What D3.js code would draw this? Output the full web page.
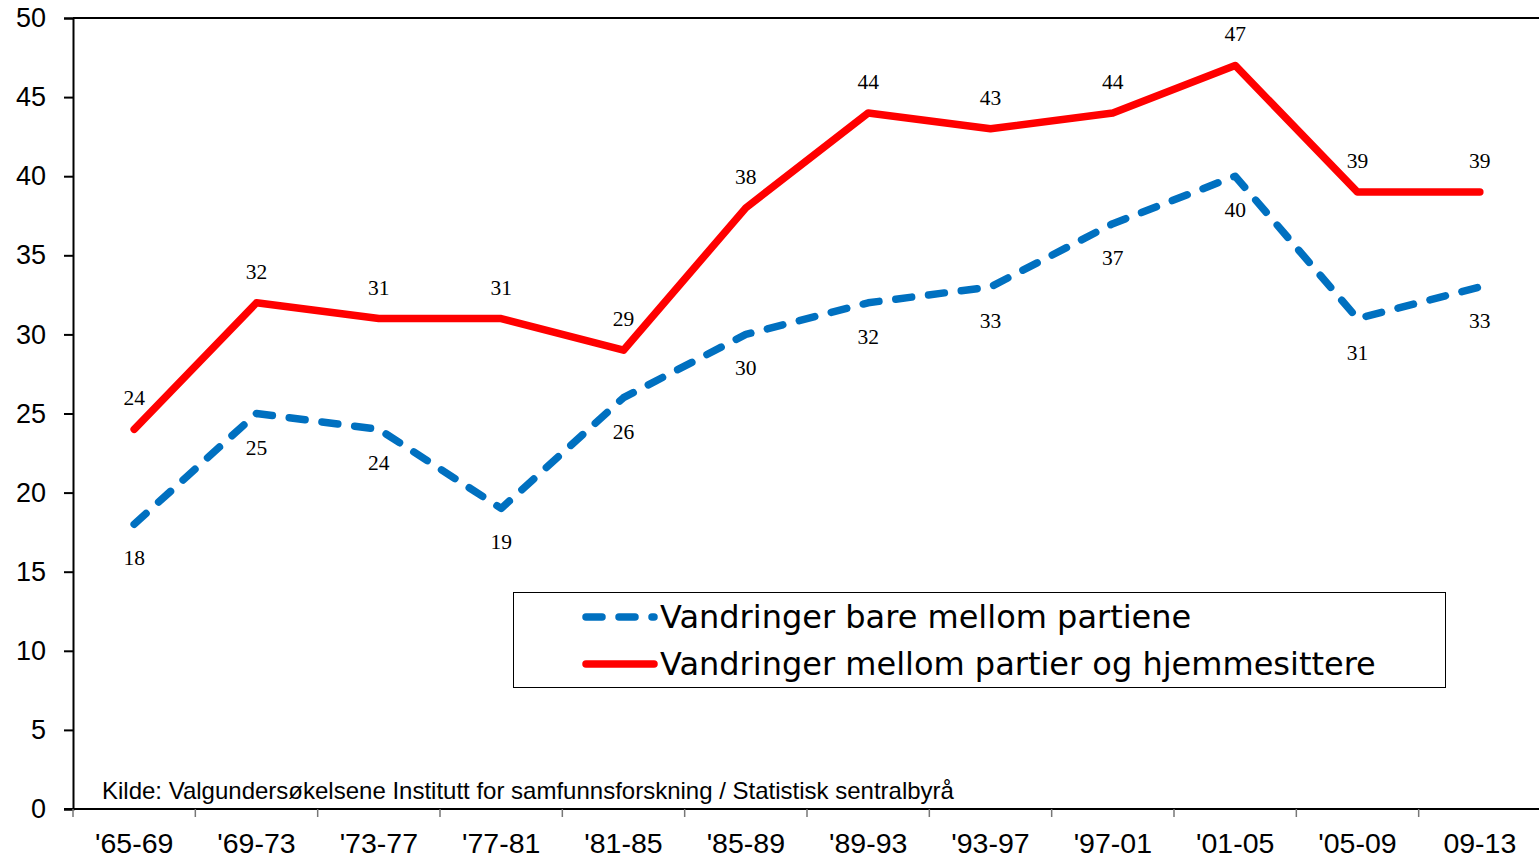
<!DOCTYPE html>
<html><head><meta charset="utf-8">
<script src="https://cdn.jsdelivr.net/npm/d3@7"></script>
<style>html,body{margin:0;padding:0;background:#fff;overflow:hidden}</style>
</head><body>
<svg id="c" width="1539" height="858"></svg>
<script>
const categories = ["'65-69","'69-73","'73-77","'77-81","'81-85","'85-89","'89-93","'93-97","'97-01","'01-05","'05-09","09-13"];
const seriesBare = [18,25,24,19,26,30,32,33,37,40,31,33];
const seriesHjemme = [24,32,31,31,29,38,44,43,44,47,39,39];
const yTicks = [0,5,10,15,20,25,30,35,40,45,50];
const legendLabels = ["Vandringer bare mellom partiene","Vandringer mellom partier og hjemmesittere"];
const sourceText = "Kilde: Valgundersøkelsene Institutt for samfunnsforskning / Statistisk sentralbyrå";

const svg = d3.select("#c");
const L = 73, R = 1541, T = 18, B = 809;
const x = d3.scaleBand().domain(categories).range([L, R]);
const y = d3.scaleLinear().domain([0, 50]).range([B, T]);
const cx = c => x(c) + x.bandwidth() / 2;

// top border
svg.append("line").attr("x1", L).attr("x2", 1539).attr("y1", T).attr("y2", T)
  .attr("stroke", "#000").attr("stroke-width", 2);

// y axis
const ya = svg.append("g").attr("transform", `translate(${L},0)`)
  .call(d3.axisLeft(y).tickValues(yTicks).tickSize(9).tickPadding(18));
ya.select(".domain").attr("stroke", "#000").attr("stroke-width", 2);
ya.selectAll(".tick line").attr("stroke", "#000").attr("stroke-width", 2);
ya.selectAll("text").attr("font-family", "Liberation Sans, Arial, sans-serif")
  .attr("font-size", 27).attr("fill", "#000");

// x axis
const xa = svg.append("g").attr("transform", `translate(0,${B})`)
  .call(d3.axisBottom(x).tickSize(0).tickPadding(24));
xa.select(".domain").remove();
xa.selectAll("text").attr("font-family", "Liberation Sans, Arial, sans-serif")
  .attr("font-size", 28.5).attr("fill", "#000");
svg.append("line").attr("x1", L - 9).attr("x2", 1539).attr("y1", B).attr("y2", B)
  .attr("stroke", "#000").attr("stroke-width", 2);
// boundary ticks
const edges = categories.map(c => x(c)).concat([R]);
svg.selectAll(".xt").data(edges).enter().append("line")
  .attr("x1", d => d).attr("x2", d => d).attr("y1", B).attr("y2", B + 8)
  .attr("stroke", "#777").attr("stroke-width", 1.5);

// lines
const line = d3.line().x((d, i) => cx(categories[i])).y(d => y(d));
svg.append("path").datum(seriesHjemme).attr("d", line)
  .attr("fill", "none").attr("stroke", "#FF0000").attr("stroke-width", 7.5)
  .attr("stroke-linecap", "round").attr("stroke-linejoin", "round");
svg.append("path").datum(seriesBare).attr("d", line)
  .attr("fill", "none").attr("stroke", "#0070C0").attr("stroke-width", 7.5)
  .attr("stroke-dasharray", "16,17")
  .attr("stroke-linecap", "round").attr("stroke-linejoin", "round");

// data labels
const lblFont = "Liberation Serif, Times New Roman, serif";
svg.selectAll(".lr").data(seriesHjemme).enter().append("text")
  .attr("x", (d, i) => cx(categories[i])).attr("y", d => y(d) - 24)
  .attr("text-anchor", "middle").attr("font-family", lblFont).attr("font-size", 21.5)
  .text(d => d);
svg.selectAll(".lb").data(seriesBare).enter().append("text")
  .attr("x", (d, i) => cx(categories[i])).attr("y", d => y(d) + 41)
  .attr("text-anchor", "middle").attr("font-family", lblFont).attr("font-size", 21.5)
  .text(d => d);

// legend
const lg = svg.append("g");
lg.append("rect").attr("x", 513.5).attr("y", 592.5).attr("width", 932).attr("height", 95)
  .attr("fill", "#fff").attr("stroke", "#000").attr("stroke-width", 1);
const rows = [
  {label: legendLabels[0], color: "#0070C0", dash: "16,17", w: 7.5, yy: 617},
  {label: legendLabels[1], color: "#FF0000", dash: null, w: 7.5, yy: 664}
];
rows.forEach(r => {
  const ln = lg.append("line").attr("x1", 586).attr("x2", 654).attr("y1", r.yy).attr("y2", r.yy)
    .attr("stroke", r.color).attr("stroke-width", r.w).attr("stroke-linecap", "round");
  if (r.dash) ln.attr("stroke-dasharray", r.dash);
  lg.append("text").attr("x", 660).attr("y", r.yy + 11)
    .attr("font-family", "DejaVu Sans, Verdana, sans-serif").attr("font-size", 32)
    .attr("fill", "#000").text(r.label);
});

// source
svg.append("text").attr("x", 102).attr("y", 799)
  .attr("font-family", "Liberation Sans, Arial, sans-serif").attr("font-size", 24)
  .attr("fill", "#000").text(sourceText);
</script>
</body></html>
